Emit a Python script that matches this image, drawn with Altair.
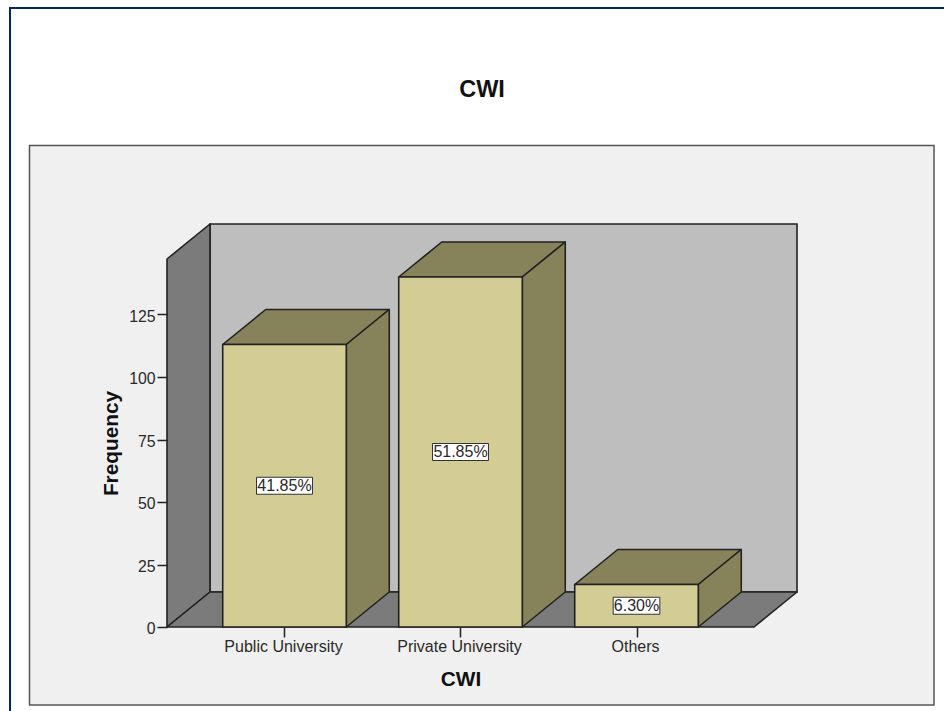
import altair as alt
import pandas as pd

# Frequencies by institution type, with the share printed on each bar
categories = ["Public University", "Private University", "Others"]
frequencies = [113, 140, 17]
shares = ["41.85%", "51.85%", "6.30%"]
y_ticks = [0, 25, 50, 75, 100, 125]

# Scale extents and pseudo-3D geometry, in axis units
X_MIN, X_MAX = -0.6676, 2.6676
Y_MAX = 147.2
BAR_HALF = 0.351
DEPTH_X = 0.2443
DEPTH_Y = 14.0

FONT = "Liberation Sans"
INK = "#2a2a2a"
LINE = "#222222"
FRONT = "#d3cd95"
SHADE = "#86825a"
WALL_DARK = "#7b7b7b"
WALL_BACK = "#bebebe"
PANEL = "#f0f0f0"
NAVY = "#00286e"

x_scale = alt.Scale(domain=[X_MIN, X_MAX], nice=False, zero=False)
y_scale = alt.Scale(domain=[0, Y_MAX], nice=False, zero=False)

label_expr = "[" + ",".join(f"'{c}'" for c in categories) + "][datum.value]"
x_axis = alt.Axis(
    title="CWI",
    values=list(range(len(categories))),
    labelExpr=label_expr,
    domain=False,
    grid=False,
    tickSize=10,
    tickColor=LINE,
    tickWidth=1.5,
    labelFont=FONT,
    labelFontSize=16,
    labelColor=INK,
    labelPadding=1.5,
    labelOffset=-1.5,
    labelOverlap=False,
    labelFlush=False,
    titleFont=FONT,
    titleFontSize=20.8,
    titleFontWeight="bold",
    titleColor="#111111",
    titleX=293.5,
    titleY=52,
    titleBaseline="middle",
    zindex=1,
)
y_axis = alt.Axis(
    title="Frequency",
    values=y_ticks,
    domain=False,
    grid=False,
    tickSize=10,
    tickColor=LINE,
    tickWidth=1.5,
    labelFont=FONT,
    labelFontSize=15.8,
    labelColor=INK,
    labelPadding=2,
    labelOffset=1.5,
    labelOverlap=False,
    labelFlush=False,
    titleFont=FONT,
    titleFontSize=20.8,
    titleFontWeight="bold",
    titleColor="#111111",
    titleAngle=-90,
    titleX=-56,
    titleY=184,
    titleBaseline="middle",
    titleAlign="center",
    zindex=1,
)


def x_enc(field):
    return alt.X(field, scale=x_scale, axis=x_axis)


def y_enc(field):
    return alt.Y(field, scale=y_scale, axis=y_axis)


def side_face(x0, low, high, face):
    """Receding right-hand (or left wall) face starting at x0."""
    return [
        {"x": x0, "top": high, "bottom": low, "face": face},
        {"x": x0 + DEPTH_X, "top": high + DEPTH_Y, "bottom": low + DEPTH_Y, "face": face},
    ]


def top_face(x0, x1, level, face):
    """Receding horizontal face from the edge x0..x1 at the given level."""
    return [
        {"x": x0, "top": level, "bottom": level, "face": face},
        {"x": x0 + DEPTH_X, "top": level + DEPTH_Y, "bottom": level, "face": face},
        {"x": x1, "top": level + DEPTH_Y, "bottom": level, "face": face},
        {"x": x1 + DEPTH_X, "top": level + DEPTH_Y, "bottom": level + DEPTH_Y, "face": face},
    ]


def area_layer(rows, fill):
    return (
        alt.Chart(pd.DataFrame(rows))
        .mark_area(fill=fill, stroke=LINE, strokeWidth=1.6, strokeJoin="round", opacity=1)
        .encode(x=x_enc("x:Q"), y=y_enc("top:Q"), y2="bottom:Q", detail="face:N")
    )


blank = alt.Data(values=[{"k": 0}])

# Page furniture, positioned relative to the plot origin
frame = alt.Chart(blank).mark_rect(fill="white", stroke=NAVY, strokeWidth=2).encode(
    x=alt.value(-157), x2=alt.value(900), y=alt.value(-251), y2=alt.value(600)
)
panel = alt.Chart(blank).mark_rect(fill=PANEL, stroke="#555555", strokeWidth=1.5).encode(
    x=alt.value(-137.5), x2=alt.value(767), y=alt.value(-113.5), y2=alt.value(446)
)
title = alt.Chart(blank).mark_text(
    text="CWI", font=FONT, fontSize=23.5, fontWeight="bold", color="#111111", baseline="middle"
).encode(x=alt.value(315), y=alt.value(-169))

# Chart box: back wall, left wall, floor
back_wall = (
    alt.Chart(pd.DataFrame([{"x": X_MIN + DEPTH_X, "x2": X_MAX + DEPTH_X, "y": DEPTH_Y, "y2": Y_MAX + DEPTH_Y}]))
    .mark_rect(fill=WALL_BACK, stroke=LINE, strokeWidth=1.6)
    .encode(x=x_enc("x:Q"), x2="x2:Q", y=y_enc("y:Q"), y2="y2:Q")
)
left_wall = area_layer(side_face(X_MIN, 0, Y_MAX, "wall"), WALL_DARK)
floor = area_layer(top_face(X_MIN, X_MAX, 0, "floor"), WALL_DARK)

# Bars: top and side faces come from each frequency
tops, sides = [], []
for i, value in enumerate(frequencies):
    tops += top_face(i - BAR_HALF, i + BAR_HALF, value, categories[i])
    sides += side_face(i + BAR_HALF, 0, value, categories[i])

bar_table = pd.DataFrame(
    {
        "pos": range(len(categories)),
        "left": [i - BAR_HALF for i in range(len(categories))],
        "right": [i + BAR_HALF for i in range(len(categories))],
        "frequency": frequencies,
        "zero": [0] * len(categories),
        "mid": [v / 2 for v in frequencies],
        "share": shares,
        "box_left": [i - len(s) * 0.0265 for i, s in enumerate(shares)],
        "box_right": [i + len(s) * 0.0265 for i, s in enumerate(shares)],
    }
)

top_layer = area_layer(tops, SHADE)
side_layer = area_layer(sides, SHADE)

front_layer = (
    alt.Chart(bar_table)
    .mark_rect(fill=FRONT, stroke=LINE, strokeWidth=1.6)
    .encode(x=x_enc("left:Q"), x2="right:Q", y=y_enc("frequency:Q"), y2="zero:Q")
)

label_box = (
    alt.Chart(bar_table)
    .mark_rect(fill="white", stroke="#333333", strokeWidth=1, height=17)
    .encode(x=x_enc("box_left:Q"), x2="box_right:Q", y=y_enc("mid:Q"))
)
label_text = (
    alt.Chart(bar_table)
    .mark_text(font=FONT, fontSize=16, color=INK, baseline="middle", align="center")
    .encode(x=x_enc("pos:Q"), y=y_enc("mid:Q"), text="share:N")
)

chart = (
    alt.layer(
        frame, panel, title, back_wall, left_wall, floor,
        top_layer, side_layer, front_layer, label_box, label_text,
    )
    .properties(
        width=587,
        height=368,
        background="white",
        autosize=alt.AutoSizeParams(type="none"),
        padding={"left": 167, "top": 259, "right": 190, "bottom": 84},
    )
    .configure_view(stroke=None)
)

chart.save("out.html", embed_options={"renderer": "svg", "actions": False})
